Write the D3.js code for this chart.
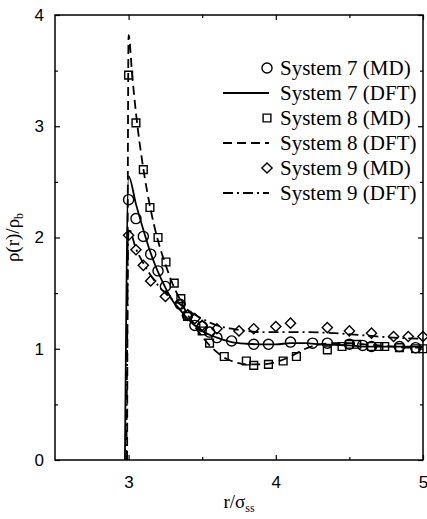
<!DOCTYPE html>
<html>
<head>
<meta charset="utf-8">
<script src="https://cdn.jsdelivr.net/npm/d3@7"></script>
<style>
  body { margin: 0; background: #fff; }
  svg { display: block; }
</style>
</head>
<body>
<div id="chart"></div>
<script>
// MD points
const md7X = [3.0, 3.05, 3.10, 3.15, 3.20, 3.25, 3.35, 3.40, 3.45, 3.50, 3.55, 3.60, 3.70, 3.85, 3.95, 4.10, 4.25, 4.35, 4.50, 4.59, 4.65, 4.84, 4.95];
const md7Y = [2.34, 2.17, 2.01, 1.85, 1.70, 1.56, 1.40, 1.30, 1.21, 1.20, 1.15, 1.10, 1.07, 1.04, 1.04, 1.06, 1.05, 1.05, 1.04, 1.03, 1.02, 1.02, 1.01];

const md8X = [3.0, 3.05, 3.10, 3.145, 3.20, 3.254, 3.31, 3.355, 3.40, 3.50, 3.55, 3.65, 3.80, 3.85, 3.95, 4.05, 4.14, 4.35, 4.45, 4.50, 4.55, 4.65, 4.70, 4.74, 4.84, 4.95, 5.0];
const md8Y = [3.46, 3.03, 2.61, 2.27, 2.00, 1.78, 1.59, 1.45, 1.29, 1.16, 1.05, 0.93, 0.89, 0.85, 0.86, 0.89, 0.93, 0.99, 1.02, 1.04, 1.04, 1.02, 1.02, 1.02, 1.01, 1.00, 1.00];

const md9X = [3.0, 3.05, 3.10, 3.15, 3.25, 3.35, 3.40, 3.45, 3.50, 3.60, 3.75, 3.85, 4.00, 4.10, 4.35, 4.50, 4.65, 4.80, 4.90, 5.0];
const md9Y = [2.02, 1.89, 1.75, 1.61, 1.47, 1.40, 1.30, 1.27, 1.21, 1.18, 1.16, 1.18, 1.20, 1.23, 1.19, 1.16, 1.14, 1.11, 1.11, 1.11];

// DFT curves
const dft7X = [2.975, 3.0, 3.05, 3.1, 3.15, 3.2, 3.25, 3.3, 3.35, 3.4, 3.5, 3.6, 3.7, 3.8, 3.9, 4.0, 4.1, 4.2, 4.3, 4.4, 4.5, 4.6, 4.7, 4.8, 4.9, 5.0];
const dft7Y = [0, 2.55, 2.30, 2.07, 1.86, 1.69, 1.55, 1.43, 1.35, 1.27, 1.16, 1.10, 1.06, 1.045, 1.04, 1.04, 1.05, 1.05, 1.04, 1.035, 1.03, 1.02, 1.02, 1.02, 1.02, 1.02];

const dft8X = [2.99, 3.0, 3.025, 3.05, 3.1, 3.15, 3.2, 3.25, 3.3, 3.35, 3.4, 3.45, 3.5, 3.55, 3.6, 3.65, 3.7, 3.8, 3.9, 4.0, 4.1, 4.2, 4.3, 4.4, 4.5, 4.6, 4.7, 4.8, 4.9, 5.0];
const dft8Y = [0, 3.82, 3.45, 3.12, 2.62, 2.25, 1.97, 1.76, 1.58, 1.44, 1.31, 1.20, 1.11, 1.03, 0.97, 0.92, 0.89, 0.86, 0.86, 0.88, 0.93, 1.00, 1.04, 1.05, 1.05, 1.04, 1.03, 1.02, 1.01, 1.01];

const dft9X = [2.985, 3.0, 3.05, 3.1, 3.15, 3.2, 3.25, 3.3, 3.35, 3.4, 3.5, 3.6, 3.7, 3.8, 3.9, 4.0, 4.2, 4.4, 4.6, 4.8, 5.0];
const dft9Y = [0, 2.08, 1.90, 1.77, 1.66, 1.57, 1.50, 1.44, 1.40, 1.35, 1.27, 1.21, 1.18, 1.16, 1.15, 1.15, 1.15, 1.14, 1.12, 1.10, 1.09];

const legendLabels = ['System 7 (MD)', 'System 7 (DFT)', 'System 8 (MD)', 'System 8 (DFT)', 'System 9 (MD)', 'System 9 (DFT)'];

const xMajor = [3, 4, 5];
const xMinor = [3.5, 4.5];
const yMajor = [0, 1, 2, 3, 4];
const yMinor = [0.5, 1.5, 2.5, 3.5];

const width = 427, height = 519;
const margin = { top: 15, right: 4, bottom: 59, left: 55 };

const svg = d3.select('#chart').append('svg')
    .attr('width', width)
    .attr('height', height);

const x = d3.scaleLinear().domain([2.5, 5]).range([margin.left, width - margin.right]);
const y = d3.scaleLinear().domain([0, 4]).range([height - margin.bottom, margin.top]);

const tickFont = '"Liberation Sans", Arial, sans-serif';
const serif = '"Liberation Serif", "Times New Roman", serif';

// Axes: ticks point inward on all four sides
function styleAxis(g) {
    g.select('.domain').remove();
    g.selectAll('.tick line').attr('stroke', '#000').attr('stroke-width', 1.2);
    g.selectAll('.tick text')
        .attr('fill', '#000')
        .style('font-family', tickFont)
        .style('font-size', '17px');
}

svg.append('g')
    .attr('transform', `translate(0,${y(0)})`)
    .call(d3.axisBottom(x).tickValues(xMajor).tickSize(-5).tickPadding(16).tickFormat(d3.format('d')))
    .call(styleAxis);
svg.append('g')
    .attr('transform', `translate(0,${y(0)})`)
    .call(d3.axisBottom(x).tickValues(xMinor).tickSize(-3).tickFormat(''))
    .call(styleAxis);
svg.append('g')
    .attr('transform', `translate(0,${y(4)})`)
    .call(d3.axisTop(x).tickValues(xMajor).tickSize(-5).tickFormat(''))
    .call(styleAxis);
svg.append('g')
    .attr('transform', `translate(0,${y(4)})`)
    .call(d3.axisTop(x).tickValues(xMinor).tickSize(-3).tickFormat(''))
    .call(styleAxis);

svg.append('g')
    .attr('transform', `translate(${x(2.5)},0)`)
    .call(d3.axisLeft(y).tickValues(yMajor).tickSize(-5).tickPadding(11).tickFormat(d3.format('d')))
    .call(styleAxis);
svg.append('g')
    .attr('transform', `translate(${x(2.5)},0)`)
    .call(d3.axisLeft(y).tickValues(yMinor).tickSize(-3).tickFormat(''))
    .call(styleAxis);
svg.append('g')
    .attr('transform', `translate(${x(5)},0)`)
    .call(d3.axisRight(y).tickValues(yMajor).tickSize(-5).tickFormat(''))
    .call(styleAxis);
svg.append('g')
    .attr('transform', `translate(${x(5)},0)`)
    .call(d3.axisRight(y).tickValues(yMinor).tickSize(-3).tickFormat(''))
    .call(styleAxis);

// Frame
svg.append('rect')
    .attr('x', x(2.5))
    .attr('y', y(4))
    .attr('width', x(5) - x(2.5))
    .attr('height', y(0) - y(4))
    .attr('fill', 'none')
    .attr('stroke', '#000')
    .attr('stroke-width', 1.5);

// DFT lines
const line = d3.line()
    .x(d => x(d[0]))
    .y(d => y(d[1]))
    .curve(d3.curveMonotoneX);

const curves = [
    { xs: dft7X, ys: dft7Y, dash: null },
    { xs: dft8X, ys: dft8Y, dash: '9,5' },
    { xs: dft9X, ys: dft9Y, dash: '10,4,2,4' }
];

const plot = svg.append('g');

curves.forEach(c => {
    plot.append('path')
        .datum(d3.zip(c.xs, c.ys))
        .attr('d', line)
        .attr('fill', 'none')
        .attr('stroke', '#000')
        .attr('stroke-width', 1.8)
        .attr('stroke-dasharray', c.dash);
});

// MD markers (diamond = square turned 45deg, same width and height)
const markers = {
    circle: { path: d3.symbol().type(d3.symbolCircle).size(80)(), rot: 0 },
    square: { path: d3.symbol().type(d3.symbolSquare).size(60)(), rot: 0 },
    diamond: { path: d3.symbol().type(d3.symbolSquare).size(52)(), rot: 45 }
};

const markerSets = [
    { xs: md7X, ys: md7Y, m: markers.circle },
    { xs: md8X, ys: md8Y, m: markers.square },
    { xs: md9X, ys: md9Y, m: markers.diamond }
];

markerSets.forEach(s => {
    plot.append('g')
        .selectAll('path')
        .data(d3.zip(s.xs, s.ys))
        .join('path')
        .attr('transform', d => `translate(${x(d[0])},${y(d[1])}) rotate(${s.m.rot})`)
        .attr('d', s.m.path)
        .attr('fill', 'none')
        .attr('stroke', '#000')
        .attr('stroke-width', 1.4);
});

// Legend
const legend = svg.append('g').attr('transform', 'translate(0,68)');
const rowH = 25;
const legendItems = [
    { m: markers.circle }, { dash: null }, { m: markers.square },
    { dash: '9,5' }, { m: markers.diamond }, { dash: '10,4,2,4' }
];

legendItems.forEach((it, i) => {
    const row = legend.append('g').attr('transform', `translate(0,${i * rowH})`);
    if (it.m) {
        row.append('path')
            .attr('transform', `translate(267,0) rotate(${it.m.rot})`)
            .attr('d', it.m.path)
            .attr('fill', 'none')
            .attr('stroke', '#000')
            .attr('stroke-width', 1.4);
    } else {
        row.append('line')
            .attr('x1', 223).attr('x2', 269)
            .attr('stroke', '#000')
            .attr('stroke-width', 1.8)
            .attr('stroke-dasharray', it.dash);
    }
    row.append('text')
        .attr('x', 280)
        .attr('dy', '0.35em')
        .style('font-family', serif)
        .style('font-size', '21px')
        .text(legendLabels[i]);
});

// Axis titles
const xTitle = svg.append('text')
    .attr('x', (x(2.5) + x(5)) / 2)
    .attr('y', 508)
    .attr('text-anchor', 'middle')
    .style('font-family', serif)
    .style('font-size', '19px');
xTitle.append('tspan').text('r/σ');
xTitle.append('tspan').attr('dy', 4).style('font-size', '12px').text('ss');

const yTitle = svg.append('text')
    .attr('transform', `translate(19,${(y(0) + y(4)) / 2}) rotate(-90)`)
    .attr('text-anchor', 'middle')
    .style('font-family', serif)
    .style('font-size', '19px');
yTitle.append('tspan').text('ρ(r)/ρ');
yTitle.append('tspan').attr('dy', 4).style('font-size', '12px').text('b');
</script>
</body>
</html>
